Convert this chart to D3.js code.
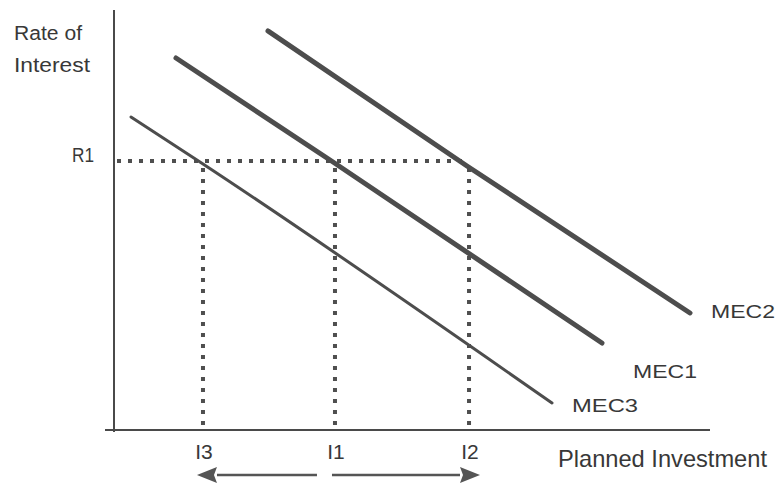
<!DOCTYPE html>
<html>
<head>
<meta charset="utf-8">
<script src="https://cdn.jsdelivr.net/npm/d3@7"></script>
<style>
  html, body { margin: 0; padding: 0; background: #fff; }
  svg { display: block; }
  text { font-family: "Liberation Sans", Arial, sans-serif; fill: #383838; }
</style>
</head>
<body>
<svg id="chart" width="779" height="488"></svg>
<script>
// ---- data (in chart units) ----
const seriesNames = ["MEC1", "MEC2", "MEC3"];
const mec1X = [10.33, 36.5, 81.33];
const mec1Y = [88.57, 63.81, 20.71];
const mec2X = [25.67, 58.83, 96.0];
const mec2Y = [95.0, 62.86, 27.86];
const mec3X = [2.83, 14.33, 73.0];
const mec3Y = [74.52, 63.81, 6.43];
const rateLevel = 64.05;
const rateLabel = "R1";
const investLevels = [14.83, 36.83, 59.17];
const investLabels = ["I3", "I1", "I2"];
const arrowLeft = [33.83, 13.83];   // from, to
const arrowRight = [36.33, 61.0];   // from, to

// ---- scales ----
const svg = d3.select("#chart");
const x = d3.scaleLinear().domain([0, 100]).range([114, 714]);
const y = d3.scaleLinear().domain([0, 100]).range([430, 10]);
const ink = "#4a4a4a";

// ---- axes ----
const xAxis = svg.append("g").attr("transform", `translate(0,${y(0)})`)
  .call(d3.axisBottom(x).tickValues([]).tickSizeOuter(0));
xAxis.select(".domain").attr("d", `M105,0H710`).attr("stroke", ink).attr("stroke-width", 2);

const yAxis = svg.append("g").attr("transform", `translate(${x(0)},0)`)
  .call(d3.axisLeft(y).tickValues([]).tickSizeOuter(0));
yAxis.select(".domain").attr("d", `M0,${y(100)}V${y(0) + 2}`).attr("stroke", ink).attr("stroke-width", 2);

// ---- dotted guide lines ----
const dot = { "stroke": "#4f4f4f", "stroke-width": 4, "stroke-dasharray": "4 7", "fill": "none" };
const hline = svg.append("line")
  .attr("x1", x(0) + 3).attr("x2", x(investLevels[2]))
  .attr("y1", y(rateLevel)).attr("y2", y(rateLevel));
Object.entries(dot).forEach(([k, v]) => hline.attr(k, v));
investLevels.forEach(v => {
  const l = svg.append("line")
    .attr("x1", x(v)).attr("x2", x(v))
    .attr("y1", y(rateLevel) + 7).attr("y2", y(0) - 2);
  Object.entries(dot).forEach(([k, val]) => l.attr(k, val));
});

// ---- MEC curves ----
const seriesData = [
  { name: seriesNames[0], xs: mec1X, ys: mec1Y, w: 5 },
  { name: seriesNames[1], xs: mec2X, ys: mec2Y, w: 5 },
  { name: seriesNames[2], xs: mec3X, ys: mec3Y, w: 3 }
];
const line = d3.line().x(d => x(d[0])).y(d => y(d[1])).curve(d3.curveMonotoneX);
seriesData.forEach(s => {
  svg.append("path")
    .datum(s.xs.map((v, i) => [v, s.ys[i]]))
    .attr("d", line)
    .attr("fill", "none")
    .attr("stroke", "#4d4d4d")
    .attr("stroke-width", s.w)
    .attr("stroke-linecap", "round");
});

// ---- labels ----
function label(txt, px, py, size, len) {
  svg.append("text").attr("x", px).attr("y", py)
    .attr("font-size", size)
    .attr("textLength", len).attr("lengthAdjust", "spacingAndGlyphs")
    .text(txt);
}
// series labels (placed relative to each curve's end)
label("MEC2", x(mec2X[2]) + 21, y(mec2Y[2]) + 5, 18, 64);
label("MEC1", x(mec1X[2]) + 31, y(mec1Y[2]) + 35, 18, 64);
label("MEC3", x(mec3X[2]) + 20, y(mec3Y[2]) + 9, 18, 66);

// y-axis title
label("Rate of", 14, 40, 20, 68);
label("Interest", 14, 72, 20, 76);
// rate label
label(rateLabel, x(0) - 42, y(rateLevel) + 1, 20, 22);
// investment tick labels
investLabels.forEach((t, i) => {
  svg.append("text").attr("x", x(investLevels[i]) + 1).attr("y", y(0) + 29)
    .attr("font-size", 21).attr("text-anchor", "middle").text(t);
});
// x-axis title
label("Planned Investment", 558, 467, 24, 209);

// ---- arrows ----
function arrow(from, to) {
  const yy = y(0) + 45;
  const dir = Math.sign(to - from);
  const tip = x(to), base = tip - dir * 20;
  svg.append("line").attr("x1", x(from)).attr("x2", base).attr("y1", yy).attr("y2", yy)
    .attr("stroke", "#555").attr("stroke-width", 2.5);
  svg.append("path")
    .attr("d", `M${tip},${yy}L${base},${yy - 8}L${base + dir * 3},${yy}L${base},${yy + 8}Z`)
    .attr("fill", "#555");
}
arrow(arrowLeft[0], arrowLeft[1]);
arrow(arrowRight[0], arrowRight[1]);
</script>
</body>
</html>
